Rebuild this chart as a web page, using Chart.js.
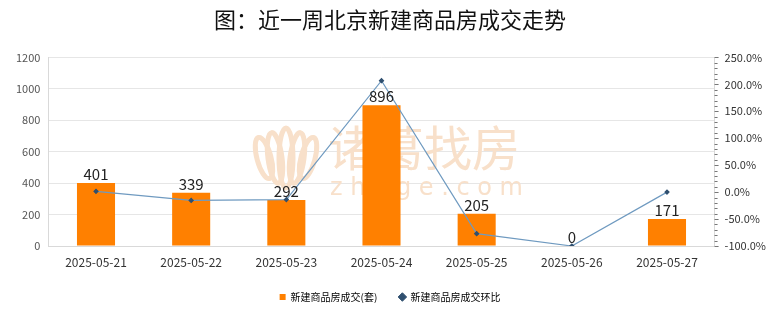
<!DOCTYPE html>
<html>
<head>
<meta charset="utf-8">
<script src="https://cdn.jsdelivr.net/npm/chart.js@4/dist/chart.umd.min.js"></script>
<style>
  html, body { margin: 0; padding: 0; background: #fff; }
  #wrap { width: 780px; height: 328px; position: relative; }
</style>
</head>
<body>
<div id="wrap"><canvas id="chart"></canvas></div>
<script>
const dates = ["2025-05-21", "2025-05-22", "2025-05-23", "2025-05-24", "2025-05-25", "2025-05-26", "2025-05-27"];
const deals = [401, 339, 292, 896, 205, 0, 171];
const ringRatio = [1.5, -15.5, -13.9, 206.8, -77.1, -100, 0];

const FONT = "'Noto Sans CJK SC', 'Noto Sans', sans-serif";
const WM = "rgb(248,224,202)";

// watermark + bar value labels + minor ticks on right axis
const extras = {
  id: "extras",
  beforeDatasetsDraw(chart) {
    const { ctx } = chart;
    ctx.save();
    // lotus logo
    ctx.strokeStyle = WM;
    ctx.lineWidth = 5;
    const lx = 286, ly = 158;
    [-22, -11, 0, 11, 22].forEach((dx) => {
      const h = 30 - Math.abs(dx) * 0.4;
      ctx.beginPath();
      ctx.ellipse(lx + dx, ly, 7, h, dx * 0.012, 0, Math.PI * 2);
      ctx.stroke();
    });
    ctx.fillStyle = WM;
    ctx.textAlign = "left";
    ctx.textBaseline = "middle";
    ctx.font = "48px " + FONT;
    ctx.fillText("诸葛找房", 328, 148);
    ctx.font = "24px 'DejaVu Sans', sans-serif";
    ctx.fillText("z h u g e . c o m", 330, 189);
    ctx.restore();
  },
  afterDatasetsDraw(chart) {
    const { ctx } = chart;
    const meta = chart.getDatasetMeta(0);
    ctx.save();
    ctx.fillStyle = "#222";
    ctx.font = "15px " + FONT;
    ctx.textAlign = "center";
    ctx.textBaseline = "bottom";
    meta.data.forEach((bar, i) => {
      ctx.fillText(String(deals[i]), bar.x, bar.y - 1);
    });
    ctx.restore();
  },
  afterDraw(chart) {
    const { ctx } = chart;
    const y1 = chart.scales.y1;
    ctx.save();
    ctx.strokeStyle = "#777";
    ctx.lineWidth = 1;
    for (let v = y1.min; v <= y1.max; v += 10) {
      const y = Math.round(y1.getPixelForValue(v)) + 0.5;
      ctx.beginPath();
      ctx.moveTo(y1.left, y);
      ctx.lineTo(y1.left + 3, y);
      ctx.stroke();
    }
    ctx.restore();
  }
};

new Chart(document.getElementById("chart"), {
  data: {
    labels: dates,
    datasets: [
      {
        type: "bar",
        label: "新建商品房成交(套)",
        data: deals,
        backgroundColor: "#ff8000",
        yAxisID: "y",
        barPercentage: 0.4,
        categoryPercentage: 1,
        order: 2,
      },
      {
        type: "line",
        label: "新建商品房成交环比",
        data: ringRatio,
        borderColor: "#6f9ac0",
        borderWidth: 1.2,
        backgroundColor: "#2f4f6f",
        pointStyle: "rectRot",
        pointRadius: 2,
        pointBorderColor: "#2f4f6f",
        pointBackgroundColor: "#2f4f6f",
        tension: 0,
        yAxisID: "y1",
        order: 1,
      },
    ],
  },
  options: {
    responsive: true,
    maintainAspectRatio: false,
    animation: false,
    devicePixelRatio: 1,
    layout: { padding: { left: 8, right: 8, top: 6, bottom: 16 } },
    plugins: {
      title: {
        display: true,
        text: "图：近一周北京新建商品房成交走势",
        color: "#111",
        font: { family: FONT, size: 22, weight: "normal" },
        padding: { top: 0, bottom: 25 },
      },
      legend: {
        position: "bottom",
        labels: {
          color: "#333",
          font: { family: FONT, size: 10 },
          boxWidth: 6,
          boxHeight: 6,
          padding: 22,
          usePointStyle: true,
          generateLabels() {
            return [
              { text: "新建商品房成交(套)", fillStyle: "#ff8000", strokeStyle: "#ff8000", lineWidth: 0, pointStyle: "rect", datasetIndex: 0 },
              { text: "新建商品房成交环比", fillStyle: "#2f4f6f", strokeStyle: "#2f4f6f", lineWidth: 1, pointStyle: "rectRot", datasetIndex: 1 },
            ];
          },
        },
      },
      tooltip: { enabled: false },
    },
    scales: {
      x: {
        grid: { display: false },
        border: { color: "#d9d9d9" },
        ticks: { color: "#333", font: { family: FONT, size: 12, lineHeight: 1 }, maxRotation: 0, padding: 2 },
      },
      y: {
        position: "left",
        min: 0,
        max: 1200,
        ticks: {
          stepSize: 200,
          color: "#555",
          font: { family: FONT, size: 11 },
          padding: 8,
          callback: (v) => String(v),
        },
        grid: { color: "#e6e6e6", drawTicks: false },
        border: { color: "#d9d9d9" },
      },
      y1: {
        position: "right",
        min: -100,
        max: 250,
        ticks: {
          stepSize: 50,
          color: "#333",
          font: { family: FONT, size: 11 },
          padding: 6,
          callback: (v) => v.toFixed(1) + "%",
        },
        grid: { drawOnChartArea: false, tickLength: 4, color: "#777" },
        border: { color: "#d9d9d9" },
      },
    },
  },
  plugins: [extras],
});
</script>
</body>
</html>
